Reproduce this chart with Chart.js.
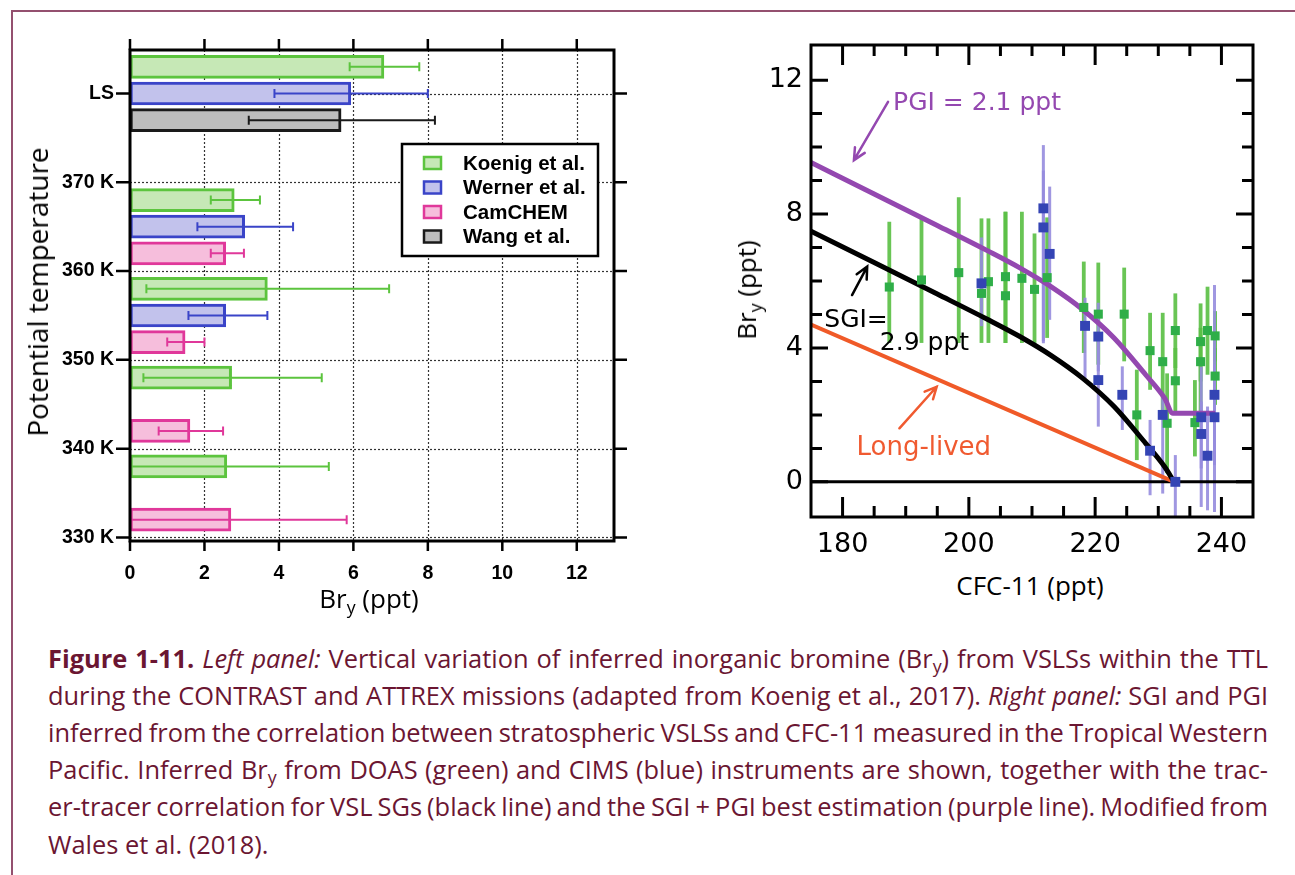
<!DOCTYPE html>
<html><head><meta charset="utf-8">
<script src="https://cdn.jsdelivr.net/npm/chart.js@4.4.1/dist/chart.umd.min.js"></script>
<style>
 html,body{margin:0;padding:0;background:#fff}
 body{position:relative;width:1295px;height:875px;overflow:hidden}
 #frame{position:absolute;left:11px;top:10px;width:1400px;height:1000px;border-top:2px solid #94506f;border-left:2px solid #94506f;box-sizing:border-box}
 canvas{position:absolute;top:0}
 #cl{left:0}
 #cr{left:650px}
 .ttl{position:absolute;font-family:'Open Sans',sans-serif;color:#000;white-space:nowrap;line-height:1}
 .sub{font-size:0.68em;position:relative;top:0.32em}
 .cap{position:absolute;left:48px;font-family:'Open Sans',sans-serif;font-size:25px;line-height:1;color:#6b1632;white-space:nowrap;transform-origin:0 0}
 .cap .sub{font-size:0.7em;top:0.3em}
</style></head><body>
<div id="frame"></div>
<canvas id="cl" width="650" height="600"></canvas>
<canvas id="cr" width="645" height="560"></canvas>
<div class="ttl" style="left:369px;top:585px;font-size:26px;transform:translateX(-50%)">Br<span class="sub">y</span> (ppt)</div>
<div class="ttl" style="left:37px;top:292px;font-size:28px;transform:translate(-50%,-50%) rotate(-90deg)">Potential temperature</div>
<div class="ttl" style="left:746px;top:290px;font-size:26px;transform:translate(-50%,-50%) rotate(-90deg)">Br<span class="sub">y</span> (ppt)</div>
<div class="ttl" style="left:1030px;top:572px;font-size:26px;transform:translateX(-50%)">CFC-11 (ppt)</div>
<div class="cap" style="top:646px"><b>Figure 1-11.</b> <i>Left panel:</i> Vertical variation of inferred inorganic bromine (Br<span class="sub">y</span>) from VSLSs within the TTL</div>
<div class="cap" style="top:683px">during the CONTRAST and ATTREX missions (adapted from Koenig et al., 2017). <i>Right panel:</i> SGI and PGI</div>
<div class="cap" style="top:720px">inferred from the correlation between stratospheric VSLSs and CFC-11 measured in the Tropical Western</div>
<div class="cap" style="top:757px">Pacific. Inferred Br<span class="sub">y</span> from DOAS (green) and CIMS (blue) instruments are shown, together with the trac-</div>
<div class="cap" style="top:794px">er-tracer correlation for VSL SGs (black line) and the SGI + PGI best estimation (purple line). Modified from</div>
<div class="cap" data-last="1" style="top:832px">Wales et al. (2018).</div>
<script>
// ================= LEFT PANEL DATA =================
const levelTicks  = [330, 340, 350, 360, 370, 380];
const levelLabels = ['330 K', '340 K', '350 K', '360 K', '370 K', 'LS'];
const bryTicksL   = [0, 2, 4, 6, 8, 10, 12];

const koenigTheta = [383, 368, 358, 348, 338];
const koenigBry   = [6.82, 2.80, 3.69, 2.73, 2.60];
const koenigLo    = [5.90, 2.17, 0.44, 0.36, -0.10];
const koenigHi    = [7.77, 3.49, 6.96, 5.15, 5.34];

const wernerTheta = [380, 365, 355];
const wernerBry   = [5.93, 3.08, 2.57];
const wernerLo    = [3.88, 1.81, 1.57];
const wernerHi    = [8.00, 4.38, 3.69];

const camTheta = [362, 352, 342, 332];
const camBry   = [2.57, 1.48, 1.61, 2.71];
const camLo    = [2.17, 1.00, 0.77, -0.05];
const camHi    = [3.06, 2.00, 2.50, 5.82];

const wangTheta = [377];
const wangBry   = [5.67];
const wangLo    = [3.19];
const wangHi    = [8.19];

// ================= RIGHT PANEL DATA =================
const cfcTicks  = [180, 200, 220, 240];
const bryTicksR = [0, 4, 8, 12];

// DOAS (green)
const greenX  = [187.4, 192.5, 198.4, 202.0, 203.1, 205.8, 205.8, 208.4, 210.4, 212.4, 218.2, 220.5, 224.6, 226.6, 228.7, 230.7, 231.4, 232.7, 232.7, 235.8, 236.7, 236.7, 237.8, 239.0, 239.0];
const greenY  = [5.82, 6.03, 6.25, 5.63, 5.98, 6.13, 5.56, 6.08, 5.75, 6.10, 5.21, 5.01, 5.01, 2.00, 3.92, 3.59, 1.75, 4.52, 3.02, 1.77, 4.19, 3.59, 4.52, 4.36, 3.16];
const greenLo = [4.15, 4.15, 4.15, 4.15, 4.15, 4.15, 4.15, 4.15, 4.15, 4.30, 3.85, 3.50, 3.60, 0.65, 2.75, 2.10, 0.26, 3.40, 2.05, 0.76, 3.00, 2.10, 3.20, 3.60, 2.30];
const greenHi = [7.77, 7.90, 8.50, 7.87, 7.87, 8.07, 8.07, 8.07, 7.42, 7.90, 6.58, 6.55, 6.40, 3.35, 5.05, 5.05, 3.24, 5.63, 4.00, 3.04, 5.33, 4.60, 5.83, 5.10, 4.00];

// CIMS (blue)
const blueX  = [202.0, 211.8, 211.8, 212.8, 218.4, 220.5, 220.5, 224.3, 228.7, 230.7, 232.7, 236.8, 236.8, 237.8, 238.9, 238.9];
const blueY  = [5.93, 8.17, 7.60, 6.81, 4.66, 4.34, 3.04, 2.60, 0.93, 2.00, 0.00, 1.93, 1.43, 0.78, 2.60, 1.93];
const blueLo = [4.65, 4.14, 4.20, 4.84, 3.10, 3.30, 1.65, 1.55, -0.40, -0.35, -1.20, 0.40, -0.75, -0.85, 0.50, -0.90];
const blueHi = [7.30, 10.06, 9.30, 8.82, 5.50, 5.35, 4.30, 3.45, 1.85, 2.65, 0.80, 3.44, 2.40, 2.25, 5.88, 3.50];

// SGI (black line), SGI+PGI (purple line), long-lived (orange line)
const sgiX = [175, 185, 195, 203, 208, 213, 218, 223, 228, 231, 232.5];
const sgiY = [7.49, 6.55, 5.61, 4.85, 4.35, 3.78, 3.10, 2.25, 1.15, 0.45, 0.00];
const pgiX = [175, 185, 195, 203, 208, 213, 218, 223, 228, 231, 232.3, 239.0];
const pgiY = [9.54, 8.60, 7.66, 6.90, 6.40, 5.83, 5.15, 4.30, 3.20, 2.50, 2.05, 2.05];
const llX  = [175, 232.5];
const llY  = [4.70, 0.00];

// ================= LEFT CHART =================
const LF = 'Liberation Sans, Arial, sans-serif';
function barSet(label, theta, bry, lo, hi, fill, stroke) {
  return { label, data: theta.map((t, i) => ({ x: bry[i], y: t, lo: lo[i], hi: hi[i] })),
    backgroundColor: fill, borderColor: stroke, borderWidth: 3, borderSkipped: false,
    barThickness: 23, grouped: false };
}
const leftDeco = {
  id: 'leftDeco',
  beforeDatasetsDraw(chart) {
    const { ctx, chartArea: a, scales: { x, y } } = chart;
    ctx.save();
    ctx.strokeStyle = '#333'; ctx.lineWidth = 1.2; ctx.setLineDash([2, 2]);
    bryTicksL.forEach(v => { if (v === 0) return; const px = Math.round(x.getPixelForValue(v)) + 0.5;
      ctx.beginPath(); ctx.moveTo(px, a.top); ctx.lineTo(px, a.bottom); ctx.stroke(); });
    levelTicks.forEach(v => { const py = Math.round(y.getPixelForValue(v)) + 0.5;
      ctx.beginPath(); ctx.moveTo(a.left, py); ctx.lineTo(a.right, py); ctx.stroke(); });
    ctx.restore();
  },
  afterDatasetsDraw(chart) {
    const { ctx, chartArea: a, scales: { x, y } } = chart;
    ctx.save();
    chart.data.datasets.forEach((ds, di) => {
      const meta = chart.getDatasetMeta(di);
      ctx.strokeStyle = ds.borderColor; ctx.lineWidth = 2;
      meta.data.forEach((el, i) => {
        const d = ds.data[i];
        const x0 = Math.max(x.getPixelForValue(d.lo), a.left), x1 = x.getPixelForValue(d.hi), py = el.y;
        ctx.beginPath(); ctx.moveTo(x0, py); ctx.lineTo(x1, py);
        ctx.moveTo(x0, py - 4.5); ctx.lineTo(x0, py + 4.5);
        ctx.moveTo(x1, py - 4.5); ctx.lineTo(x1, py + 4.5); ctx.stroke();
      });
    });
    ctx.strokeStyle = '#000'; ctx.lineWidth = 3;
    ctx.strokeRect(a.left, a.top, a.right - a.left, a.bottom - a.top);
    ctx.lineWidth = 2.5;
    levelTicks.forEach(v => { const py = y.getPixelForValue(v);
      ctx.beginPath(); ctx.moveTo(a.left - 14, py); ctx.lineTo(a.left, py);
      ctx.moveTo(a.right, py); ctx.lineTo(a.right + 13, py); ctx.stroke(); });
    bryTicksL.forEach(v => { const px = x.getPixelForValue(v);
      ctx.beginPath(); ctx.moveTo(px, a.top - 11); ctx.lineTo(px, a.top);
      ctx.moveTo(px, a.bottom); ctx.lineTo(px, a.bottom + 10); ctx.stroke(); });
    // legend
    const lx = a.left + 272, ly = a.top + 94, lw = 196, lh = 112;
    ctx.fillStyle = '#fff'; ctx.fillRect(lx, ly, lw, lh);
    ctx.strokeStyle = '#000'; ctx.lineWidth = 2.5; ctx.strokeRect(lx, ly, lw, lh);
    ctx.font = 'bold 20.5px ' + LF; ctx.textBaseline = 'middle'; ctx.textAlign = 'left';
    chart.data.datasets.forEach((ds, r) => {
      const cy = ly + 19 + r * 24.5;
      ctx.fillStyle = ds.backgroundColor; ctx.fillRect(lx + 22, cy - 6, 17, 12);
      ctx.strokeStyle = ds.borderColor; ctx.lineWidth = 2.5; ctx.strokeRect(lx + 22, cy - 6, 17, 12);
      ctx.fillStyle = '#000'; ctx.fillText(ds.label, lx + 61, cy + 1);
    });
    ctx.restore();
  }
};
new Chart(document.getElementById('cl'), {
  type: 'bar',
  data: { datasets: [
    barSet('Koenig et al.', koenigTheta, koenigBry, koenigLo, koenigHi, '#c6e8b6', '#5cc43e'),
    barSet('Werner et al.', wernerTheta, wernerBry, wernerLo, wernerHi, '#c2c2ec', '#3a44c8'),
    barSet('CamCHEM', camTheta, camBry, camLo, camHi, '#f6bedc', '#e0389a'),
    barSet('Wang et al.', wangTheta, wangBry, wangLo, wangHi, '#bdbdbd', '#1a1a1a')
  ] },
  options: {
    indexAxis: 'y', responsive: false, animation: false,
    layout: { padding: { top: 50, right: 36, left: 0, bottom: 0 } },
    plugins: { legend: { display: false }, tooltip: { enabled: false } },
    scales: {
      x: { type: 'linear', position: 'bottom', min: 0, max: 13, offset: false,
        grid: { display: false, drawTicks: false }, border: { display: false },
        ticks: { font: { family: LF, size: 19.5, weight: 'bold' }, color: '#000', padding: 21, autoSkip: false, maxRotation: 0 },
        afterBuildTicks: s => { s.ticks = bryTicksL.map(v => ({ value: v })); },
        afterFit: s => { s.height = 59; } },
      y: { type: 'linear', position: 'left', min: 329.6, max: 384.9, offset: false,
        grid: { display: false, drawTicks: false, offset: false }, border: { display: false },
        ticks: { font: { family: LF, size: 19.5, weight: 'bold' }, color: '#000', padding: 16, autoSkip: false,
          callback: v => levelLabels[levelTicks.indexOf(v)] },
        afterBuildTicks: s => { s.ticks = levelTicks.map(v => ({ value: v })); },
        afterFit: s => { s.width = 130; } }
    }
  },
  plugins: [leftDeco]
});

// ================= RIGHT CHART =================
const RF = 'DejaVu Sans, sans-serif';
const annotTexts = [
  { text: 'PGI = 2.1 ppt', x: 188.0, y: 11.1, color: '#9448b0', size: 25 },
  { text: 'SGI=', x: 177.1, y: 4.63, color: '#000', size: 25 },
  { text: '2.9 ppt', x: 185.9, y: 3.94, color: '#000', size: 25 },
  { text: 'Long-lived', x: 182.2, y: 0.81, color: '#f05a30', size: 26 }
];
const annotArrows = [
  { x0: 187.2, y0: 11.35, x1: 181.8, y1: 9.61, color: '#9448b0' },
  { x0: 181.5, y0: 5.58, x1: 183.9, y1: 6.43, color: '#000' },
  { x0: 189.0, y0: 1.60, x1: 194.9, y1: 2.84, color: '#f05a30' }
];
const rightDeco = {
  id: 'rightDeco',
  beforeDatasetsDraw(chart) {
    const { ctx, chartArea: a, scales: { x, y } } = chart;
    ctx.save();
    ctx.beginPath(); ctx.rect(a.left, a.top, a.right - a.left, a.bottom - a.top); ctx.clip();
    function eb(xs, lo, hi, color, w) {
      ctx.strokeStyle = color; ctx.lineWidth = w;
      xs.forEach((xv, i) => { const px = x.getPixelForValue(xv);
        ctx.beginPath(); ctx.moveTo(px, y.getPixelForValue(lo[i])); ctx.lineTo(px, y.getPixelForValue(hi[i])); ctx.stroke(); });
    }
    eb(greenX, greenLo, greenHi, 'rgba(92,192,70,0.92)', 3.8);
    eb(blueX, blueLo, blueHi, 'rgba(150,140,222,0.9)', 3);
    ctx.strokeStyle = '#000'; ctx.lineWidth = 3;
    const p0 = y.getPixelForValue(0);
    ctx.beginPath(); ctx.moveTo(a.left, p0); ctx.lineTo(a.right, p0); ctx.stroke();
    ctx.restore();
  },
  afterDatasetsDraw(chart) {
    const { ctx, chartArea: a, scales: { x, y } } = chart;
    ctx.save();
    ctx.strokeStyle = '#000'; ctx.lineWidth = 3;
    ctx.strokeRect(a.left, a.top, a.right - a.left, a.bottom - a.top);
    for (let v = 0; v <= 12; v++) {
      const py = y.getPixelForValue(v), L = v % 4 === 0 ? 17 : 11;
      ctx.beginPath(); ctx.moveTo(a.left, py); ctx.lineTo(a.left + L, py);
      ctx.moveTo(a.right, py); ctx.lineTo(a.right - L, py); ctx.stroke();
    }
    for (let v = 180; v <= 240; v += 5) {
      const px = x.getPixelForValue(v), L = v % 20 === 0 ? 20 : 11;
      ctx.beginPath(); ctx.moveTo(px, a.bottom); ctx.lineTo(px, a.bottom - L);
      ctx.moveTo(px, a.top); ctx.lineTo(px, a.top + L); ctx.stroke();
    }
    ctx.restore();
  },
  afterDraw(chart) {
    const { ctx, scales: { x, y } } = chart;
    ctx.save();
    ctx.textBaseline = 'alphabetic'; ctx.textAlign = 'left';
    annotTexts.forEach(t => { ctx.font = t.size + 'px ' + RF; ctx.fillStyle = t.color;
      ctx.fillText(t.text, x.getPixelForValue(t.x), y.getPixelForValue(t.y)); });
    annotArrows.forEach(ar => {
      const X0 = x.getPixelForValue(ar.x0), Y0 = y.getPixelForValue(ar.y0);
      const X1 = x.getPixelForValue(ar.x1), Y1 = y.getPixelForValue(ar.y1);
      const ang = Math.atan2(Y1 - Y0, X1 - X0), hl = 13, ha = 0.45;
      ctx.strokeStyle = ar.color; ctx.lineWidth = 2.5; ctx.lineCap = 'round';
      ctx.beginPath(); ctx.moveTo(X0, Y0); ctx.lineTo(X1, Y1);
      ctx.moveTo(X1 - hl * Math.cos(ang - ha), Y1 - hl * Math.sin(ang - ha)); ctx.lineTo(X1, Y1);
      ctx.lineTo(X1 - hl * Math.cos(ang + ha), Y1 - hl * Math.sin(ang + ha)); ctx.stroke();
    });
    ctx.restore();
  }
};
const pts = (xs, ys) => xs.map((v, i) => ({ x: v, y: ys[i] }));
new Chart(document.getElementById('cr'), {
  type: 'scatter',
  data: { datasets: [
    { label: 'CIMS', data: pts(blueX, blueY), pointStyle: 'rect', pointRadius: 7, pointBackgroundColor: '#3444b4', pointBorderWidth: 0, order: 1 },
    { label: 'DOAS', data: pts(greenX, greenY), pointStyle: 'rect', pointRadius: 6.4, pointBackgroundColor: '#2fae48', pointBorderWidth: 0, order: 2 },
    { label: 'SGI + PGI', data: pts(pgiX, pgiY), showLine: true, borderColor: '#9448b0', borderWidth: 5, pointRadius: 0, cubicInterpolationMode: 'monotone', order: 3 },
    { label: 'SGI', data: pts(sgiX, sgiY), showLine: true, borderColor: '#000', borderWidth: 5, pointRadius: 0, cubicInterpolationMode: 'monotone', order: 4 },
    { label: 'Long-lived', data: pts(llX, llY), showLine: true, borderColor: '#f05a28', borderWidth: 4, pointRadius: 0, order: 5 }
  ] },
  options: {
    responsive: false, animation: false,
    layout: { padding: { top: 45, right: 42, left: 0, bottom: 0 } },
    plugins: { legend: { display: false }, tooltip: { enabled: false } },
    scales: {
      x: { type: 'linear', min: 175, max: 245,
        grid: { display: false, drawTicks: false }, border: { display: false },
        ticks: { font: { family: RF, size: 27 }, color: '#000', padding: 12, autoSkip: false, maxRotation: 0 },
        afterBuildTicks: s => { s.ticks = cfcTicks.map(v => ({ value: v })); },
        afterFit: s => { s.height = 43; } },
      y: { type: 'linear', min: -1.05, max: 13.05,
        grid: { display: false, drawTicks: false }, border: { display: false },
        ticks: { font: { family: RF, size: 27 }, color: '#000', padding: 8, autoSkip: false },
        afterBuildTicks: s => { s.ticks = bryTicksR.map(v => ({ value: v })); },
        afterFit: s => { s.width = 161; } }
    }
  },
  plugins: [rightDeco]
});

// ================= CAPTION FIT =================
function fitCaption() {
  const lines = [...document.querySelectorAll('.cap')];
  const target = 1220;
  lines.forEach(el => { el.style.transform = 'none'; el.style.wordSpacing = '0px'; });
  const full = lines.filter(el => !el.dataset.last);
  const ws = full.map(el => el.getBoundingClientRect().width);
  const s = target / (ws.reduce((p, c) => p + c, 0) / ws.length);
  full.forEach((el, i) => {
    const n = el.textContent.split(' ').length - 1;
    const extra = (target / s - ws[i]) / n;
    el.style.wordSpacing = extra + 'px';
    el.style.transform = 'scaleX(' + s + ')';
  });
  lines.filter(el => el.dataset.last).forEach(el => { el.style.transform = 'scaleX(' + s + ')'; });
}
fitCaption();
if (document.fonts && document.fonts.ready) document.fonts.ready.then(fitCaption);
</script>
</body></html>
